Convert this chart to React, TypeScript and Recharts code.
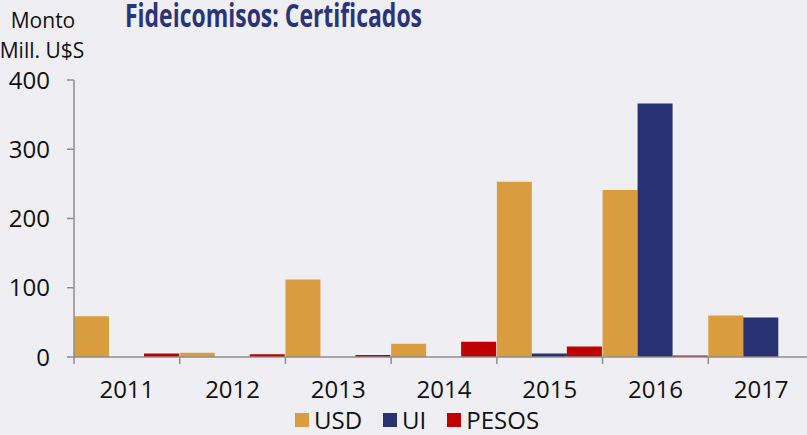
import { BarChart, Bar, XAxis, YAxis, Legend } from "recharts";

const years = ["2011", "2012", "2013", "2014", "2015", "2016", "2017"];
const usd = [59, 6, 112, 19, 253, 241, 60];
const ui = [0, 0, 0, 0, 5, 366, 57];
const pesos = [5, 4, 3, 22, 15, 2, 0];
const yTicks = [0, 100, 200, 300, 400];

const seriesNames = ["USD", "UI", "PESOS"];
const COLORS = ["#d99c3f", "#283172", "#c00000"];

const AXIS = "#8e8e8e";
const FONT = "'Open Sans', sans-serif";

const data = years.map((year, i) => ({
  year,
  USD: usd[i],
  UI: ui[i],
  PESOS: pesos[i],
}));

// chart geometry
const CHART_W = 830;
const CHART_H = 435;
const Y_AXIS_W = 74;
const MARGIN = { top: 80, right: 16, left: 0, bottom: 0 };
const BAND = (CHART_W - Y_AXIS_W - MARGIN.right) / years.length;

function YearTick(props: any) {
  const { x, y, payload } = props;
  const edge = x - BAND / 2;
  return (
    <g>
      <line x1={edge} x2={edge} y1={y} y2={y + 7} stroke={AXIS} strokeWidth={1.5} />
      <text
        x={x}
        y={y + 41}
        textAnchor="middle"
        fill="#111"
        fontSize={24}
        fontFamily={FONT}
      >
        {payload.value}
      </text>
    </g>
  );
}

function LegendBox() {
  return (
    <div
      style={{
        display: "flex",
        alignItems: "center",
        fontFamily: FONT,
        fontSize: 24,
        color: "#111",
        lineHeight: "28px",
        marginTop: -1,
      }}
    >
      {seriesNames.map((name, i) => (
        <div
          key={name}
          style={{ display: "flex", alignItems: "center", marginRight: 21 }}
        >
          <span
            style={{
              width: 14,
              height: 14,
              background: COLORS[i],
              marginRight: 5,
              display: "inline-block",
            }}
          />
          <span>{name}</span>
        </div>
      ))}
    </div>
  );
}

export default function App() {
  return (
    <div
      style={{
        position: "absolute",
        left: 0,
        top: 0,
        width: 807,
        height: 435,
        overflow: "hidden",
        background: "#efeff3",
      }}
    >
      <BarChart
        width={CHART_W}
        height={CHART_H}
        data={data}
        margin={MARGIN}
        barCategoryGap={0}
        barGap={0}
      >
        <YAxis
          width={Y_AXIS_W}
          domain={[0, 400]}
          ticks={yTicks}
          interval={0}
          axisLine={{ stroke: AXIS, strokeWidth: 1.5 }}
          tickLine={{ stroke: AXIS, strokeWidth: 1.5 }}
          tickSize={7}
          tickMargin={17}
          tick={{ fill: "#111", fontSize: 24, fontFamily: FONT }}
        />
        <XAxis
          dataKey="year"
          height={50}
          interval={0}
          axisLine={{ stroke: AXIS, strokeWidth: 1.5 }}
          tickLine={false}
          tickSize={0}
          tickMargin={0}
          tick={<YearTick />}
        />
        <Legend
          verticalAlign="bottom"
          height={28}
          content={<LegendBox />}
          wrapperStyle={{ left: 295, width: "auto" }}
        />
        {seriesNames.map((name, i) => (
          <Bar
            key={name}
            dataKey={name}
            fill={COLORS[i]}
            isAnimationActive={false}
          />
        ))}
      </BarChart>
      <svg
        width={807}
        height={80}
        style={{ position: "absolute", left: 0, top: 0, pointerEvents: "none" }}
      >
        <text
          x={125}
          y={27}
          fontSize={32}
          fontWeight="bold"
          fontFamily={FONT}
          fill="#2b3479"
          textLength={297}
          lengthAdjust="spacingAndGlyphs"
        >
          Fideicomisos: Certificados
        </text>
        <text x={43} y={28} textAnchor="middle" fontSize={21} fontFamily={FONT} fill="#111">
          Monto
        </text>
        <text x={42} y={58} textAnchor="middle" fontSize={21} fontFamily={FONT} fill="#111">
          Mill. U$S
        </text>
      </svg>
    </div>
  );
}
